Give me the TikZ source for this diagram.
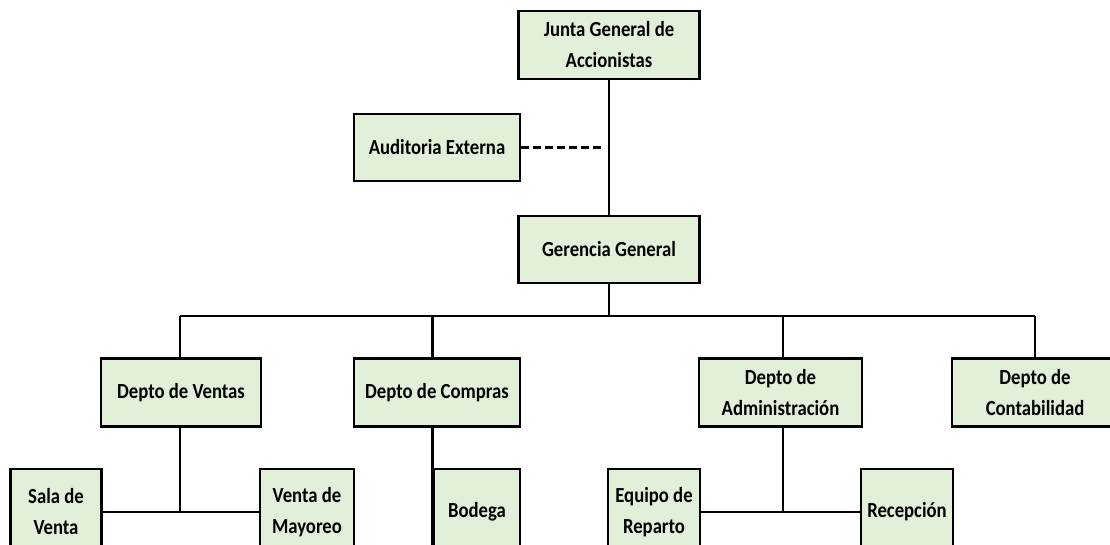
\documentclass[tikz,border=0pt]{standalone}
\usepackage{fontspec}
\setmainfont{Carlito}[FakeStretch=0.87]
\definecolor{verdecaja}{HTML}{E2EFD9}
\tikzset{
  caja/.style={draw=black, line width=2.8pt, fill=verdecaja, align=center,
    inner sep=0pt, font=\fontsize{21.5}{31}\selectfont\bfseries},
  linea/.style={line width=2.5pt},
  punteada/.style={line width=3pt, dash pattern=on 8pt off 4pt}
}
\begin{document}
\begin{tikzpicture}[x=1pt,y=-1pt]
\useasboundingbox (0,0) rectangle (1110,544);
\clip (0,0) rectangle (1110,544);
% cajas
\node[caja, minimum width=181, minimum height=68] (junta) at (609,45) {Junta General de\\Accionistas};
\node[caja, minimum width=166, minimum height=67] (auditoria) at (437,147.5) {Auditoria Externa};
\node[caja, minimum width=181, minimum height=67] (gerencia) at (609,249.5) {Gerencia General};
\node[caja, minimum width=160, minimum height=68] (ventas) at (181,392.5) {Depto de Ventas};
\node[caja, minimum width=166, minimum height=68] (compras) at (437,392.5) {Depto de Compras};
\node[caja, minimum width=163, minimum height=68] (admin) at (780.5,392.5) {Depto de\\Administración};
\node[caja, minimum width=166, minimum height=68] (contab) at (1035,392.5) {Depto de\\Contabilidad};
\node[caja, minimum width=91, minimum height=86] (sala) at (56,512) {Sala de\\Venta};
\node[caja, minimum width=94, minimum height=86] (mayoreo) at (307,512) {Venta de\\Mayoreo};
\node[caja, minimum width=86, minimum height=86] (bodega) at (477,512) {Bodega};
\node[caja, minimum width=92, minimum height=86] (equipo) at (654,512) {Equipo de\\Reparto};
\node[caja, minimum width=92, minimum height=86] (recepcion) at (907,512) {Recepción};
\coordinate (busizq) at (180,316);
\coordinate (busder) at (1035,316);
\coordinate (finpunt) at (603,147.5);
% lineas
\draw[linea] (junta.south) -- (gerencia.north);
\draw[punteada] (auditoria.east) -- (finpunt);
\draw[linea] (gerencia.south) -- (gerencia |- busizq);
\draw[linea] (busizq) -- (busder);
\draw[linea] (busizq) -- (busizq |- ventas.north);
\draw[linea] (bodega.west |- busizq) -- (bodega.west |- compras.north);
\draw[linea] (admin.north -| 783,0) -- (783,316);
\draw[linea] (busder) -- (contab.north);
\draw[linea] (ventas.south -| busizq) -- (busizq |- sala.east);
\draw[linea] (sala.east) -- (mayoreo.west);
\draw[linea] (compras.south -| bodega.west) -- (bodega.south west);
\draw[linea] (admin.south -| 783,0) -- (783,512);
\draw[linea] (equipo.east) -- (recepcion.west);
\end{tikzpicture}
\end{document}
